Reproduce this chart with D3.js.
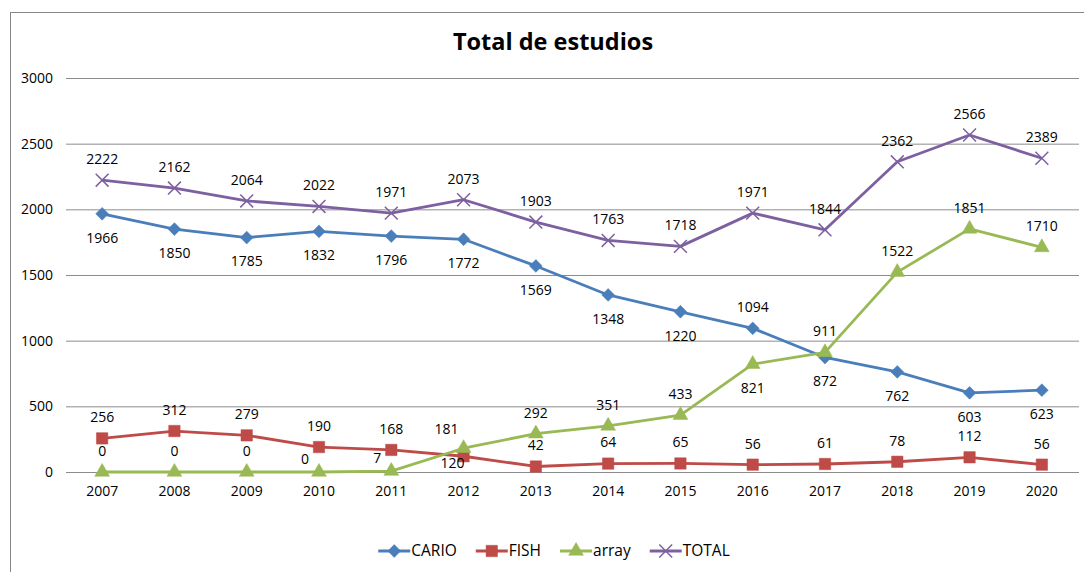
<!DOCTYPE html>
<html>
<head>
<meta charset="utf-8">
<script src="https://cdn.jsdelivr.net/npm/d3@7"></script>
<style>
    body { margin: 0; background: #fff; }
    svg { display: block; font-family: "Open Sans", sans-serif; }
</style>
</head>
<body>
<svg id="chart" width="1084" height="572"></svg>
<script>
// data
var years = ['2007', '2008', '2009', '2010', '2011', '2012', '2013', '2014', '2015', '2016', '2017', '2018', '2019', '2020'];
var cario = [1966, 1850, 1785, 1832, 1796, 1772, 1569, 1348, 1220, 1094, 872, 762, 603, 623];
var fish = [256, 312, 279, 190, 168, 120, 42, 64, 65, 56, 61, 78, 112, 56];
var arrayVals = [0, 0, 0, 0, 7, 181, 292, 351, 433, 821, 911, 1522, 1851, 1710];
var total = [2222, 2162, 2064, 2022, 1971, 2073, 1903, 1763, 1718, 1971, 1844, 2362, 2566, 2389];
var yTicks = [0, 500, 1000, 1500, 2000, 2500, 3000];

// where each data label sits: a = above, b = below, l = left, al = above-left, bl = below-left
var carioPos = ['b', 'b', 'b', 'b', 'b', 'b', 'b', 'b', 'b', 'a', 'b', 'b', 'b', 'b'];
var fishPos = ['a', 'a', 'a', 'a', 'a', 'bl', 'a', 'a', 'a', 'a', 'a', 'a', 'a', 'a'];
var arrayPos = ['a', 'a', 'a', 'l', 'l', 'al', 'a', 'a', 'a', 'b', 'a', 'a', 'a', 'a'];
var totalPos = ['a', 'a', 'a', 'a', 'a', 'a', 'a', 'a', 'a', 'a', 'a', 'a', 'a', 'a'];

var series = [
    { name: 'CARIO', values: cario, pos: carioPos, color: '#4a7ebb', marker: 'diamond' },
    { name: 'FISH', values: fish, pos: fishPos, color: '#be4b48', marker: 'square' },
    { name: 'array', values: arrayVals, pos: arrayPos, color: '#98b954', marker: 'triangle' },
    { name: 'TOTAL', values: total, pos: totalPos, color: '#7d60a0', marker: 'x' }
];

var svg = d3.select('#chart');

var x = d3.scaleBand().domain(years).range([66, 1078]).padding(0);
var y = d3.scaleLinear().domain([0, 3000]).range([472, 78]);
var cx = function(d) { return x(d) + x.bandwidth() / 2; };

// outer chart border (runs past the right and bottom edges)
svg.append('rect')
    .attr('x', 10.5).attr('y', 12.5)
    .attr('width', 1200).attr('height', 700)
    .attr('fill', 'none')
    .attr('stroke', '#868686');

svg.append('text')
    .attr('x', 553).attr('y', 50)
    .attr('text-anchor', 'middle')
    .attr('font-size', 23.5)
    .attr('font-weight', 'bold')
    .attr('fill', '#000')
    .text('Total de estudios');

// gridlines + y labels
var yAxis = svg.append('g').attr('class', 'y-axis')
    .attr('transform', 'translate(66,0)')
    .call(d3.axisLeft(y).tickValues(yTicks).tickSize(-1013).tickPadding(13).tickFormat(d3.format('d')));
yAxis.select('.domain').remove();
yAxis.selectAll('.tick line').attr('stroke', '#8c8c8c').attr('stroke-width', 1);
yAxis.selectAll('.tick text').attr('font-size', 14).attr('fill', '#000').attr('font-family', '"Open Sans", sans-serif');

var xAxis = svg.append('g').attr('class', 'x-axis')
    .attr('transform', 'translate(0,472)')
    .call(d3.axisBottom(x).tickSize(0).tickPadding(14));
xAxis.select('.domain').remove();
xAxis.selectAll('.tick text').attr('font-size', 14).attr('fill', '#000').attr('font-family', '"Open Sans", sans-serif');

function markerPath(type) {
    if (type === 'diamond') return d3.symbol(d3.symbolSquare, 82)();
    if (type === 'square') return d3.symbol(d3.symbolSquare, 130)();
    if (type === 'triangle') return d3.symbol(d3.symbolTriangle, 95)();
    return d3.symbol(d3.symbolX, 110)();
}

function drawMarker(g, type, color) {
    var p = g.append('path').attr('d', markerPath(type));
    if (type === 'x') {
        p.attr('fill', 'none').attr('stroke', color).attr('stroke-width', 1.5);
    } else {
        p.attr('fill', color).attr('stroke', color).attr('stroke-width', 0.5);
        if (type === 'diamond') p.attr('transform', 'rotate(45)');
    }
}

var line = d3.line()
    .x(function(d) { return cx(d.year); })
    .y(function(d) { return y(d.value); });

var offsets = {
    a: [0, -21],
    b: [0, 24],
    l: [-14, -13],
    al: [-17, -19],
    bl: [-11, 7]
};

series.forEach(function(s) {
    var pts = years.map(function(yr, i) { return { year: yr, value: s.values[i], pos: s.pos[i] }; });
    var g = svg.append('g').attr('class', 'series');

    g.append('path')
        .datum(pts)
        .attr('d', line)
        .attr('fill', 'none')
        .attr('stroke', s.color)
        .attr('stroke-width', 2.8)
        .attr('stroke-linejoin', 'round');

    g.selectAll('.marker')
        .data(pts)
        .enter().append('g')
        .attr('class', 'marker')
        .attr('transform', function(d) { return 'translate(' + cx(d.year) + ',' + y(d.value) + ')'; })
        .each(function() { drawMarker(d3.select(this), s.marker, s.color); });

    s.labels = pts;
});

// data labels on top of all lines
series.forEach(function(s) {
    svg.append('g').selectAll('text')
        .data(s.labels)
        .enter().append('text')
        .attr('x', function(d) { return cx(d.year) + offsets[d.pos][0]; })
        .attr('y', function(d) { return y(d.value) + offsets[d.pos][1]; })
        .attr('dy', '0.35em')
        .attr('text-anchor', 'middle')
        .attr('font-size', 14)
        .attr('fill', '#000')
        .text(function(d) { return d.value; });
});

// legend
var legend = svg.append('g').attr('class', 'legend');
var lx = 0;
series.forEach(function(s, i) {
    var item = legend.append('g').attr('transform', 'translate(' + lx + ',0)');
    item.append('line')
        .attr('x1', 0).attr('x2', 32)
        .attr('stroke', s.color).attr('stroke-width', 2.8);
    var m = item.append('g').attr('transform', 'translate(16,0)');
    drawMarker(m, s.marker, s.color);
    var t = item.append('text')
        .attr('x', 33).attr('dy', '0.35em')
        .attr('font-size', 15.5)
        .attr('fill', '#000')
        .text(s.name);
    lx += 33 + t.node().getComputedTextLength() + 19;
});
var legendWidth = lx - 19;
legend.attr('transform', 'translate(' + (554 - legendWidth / 2) + ',551)');
</script>
</body>
</html>
